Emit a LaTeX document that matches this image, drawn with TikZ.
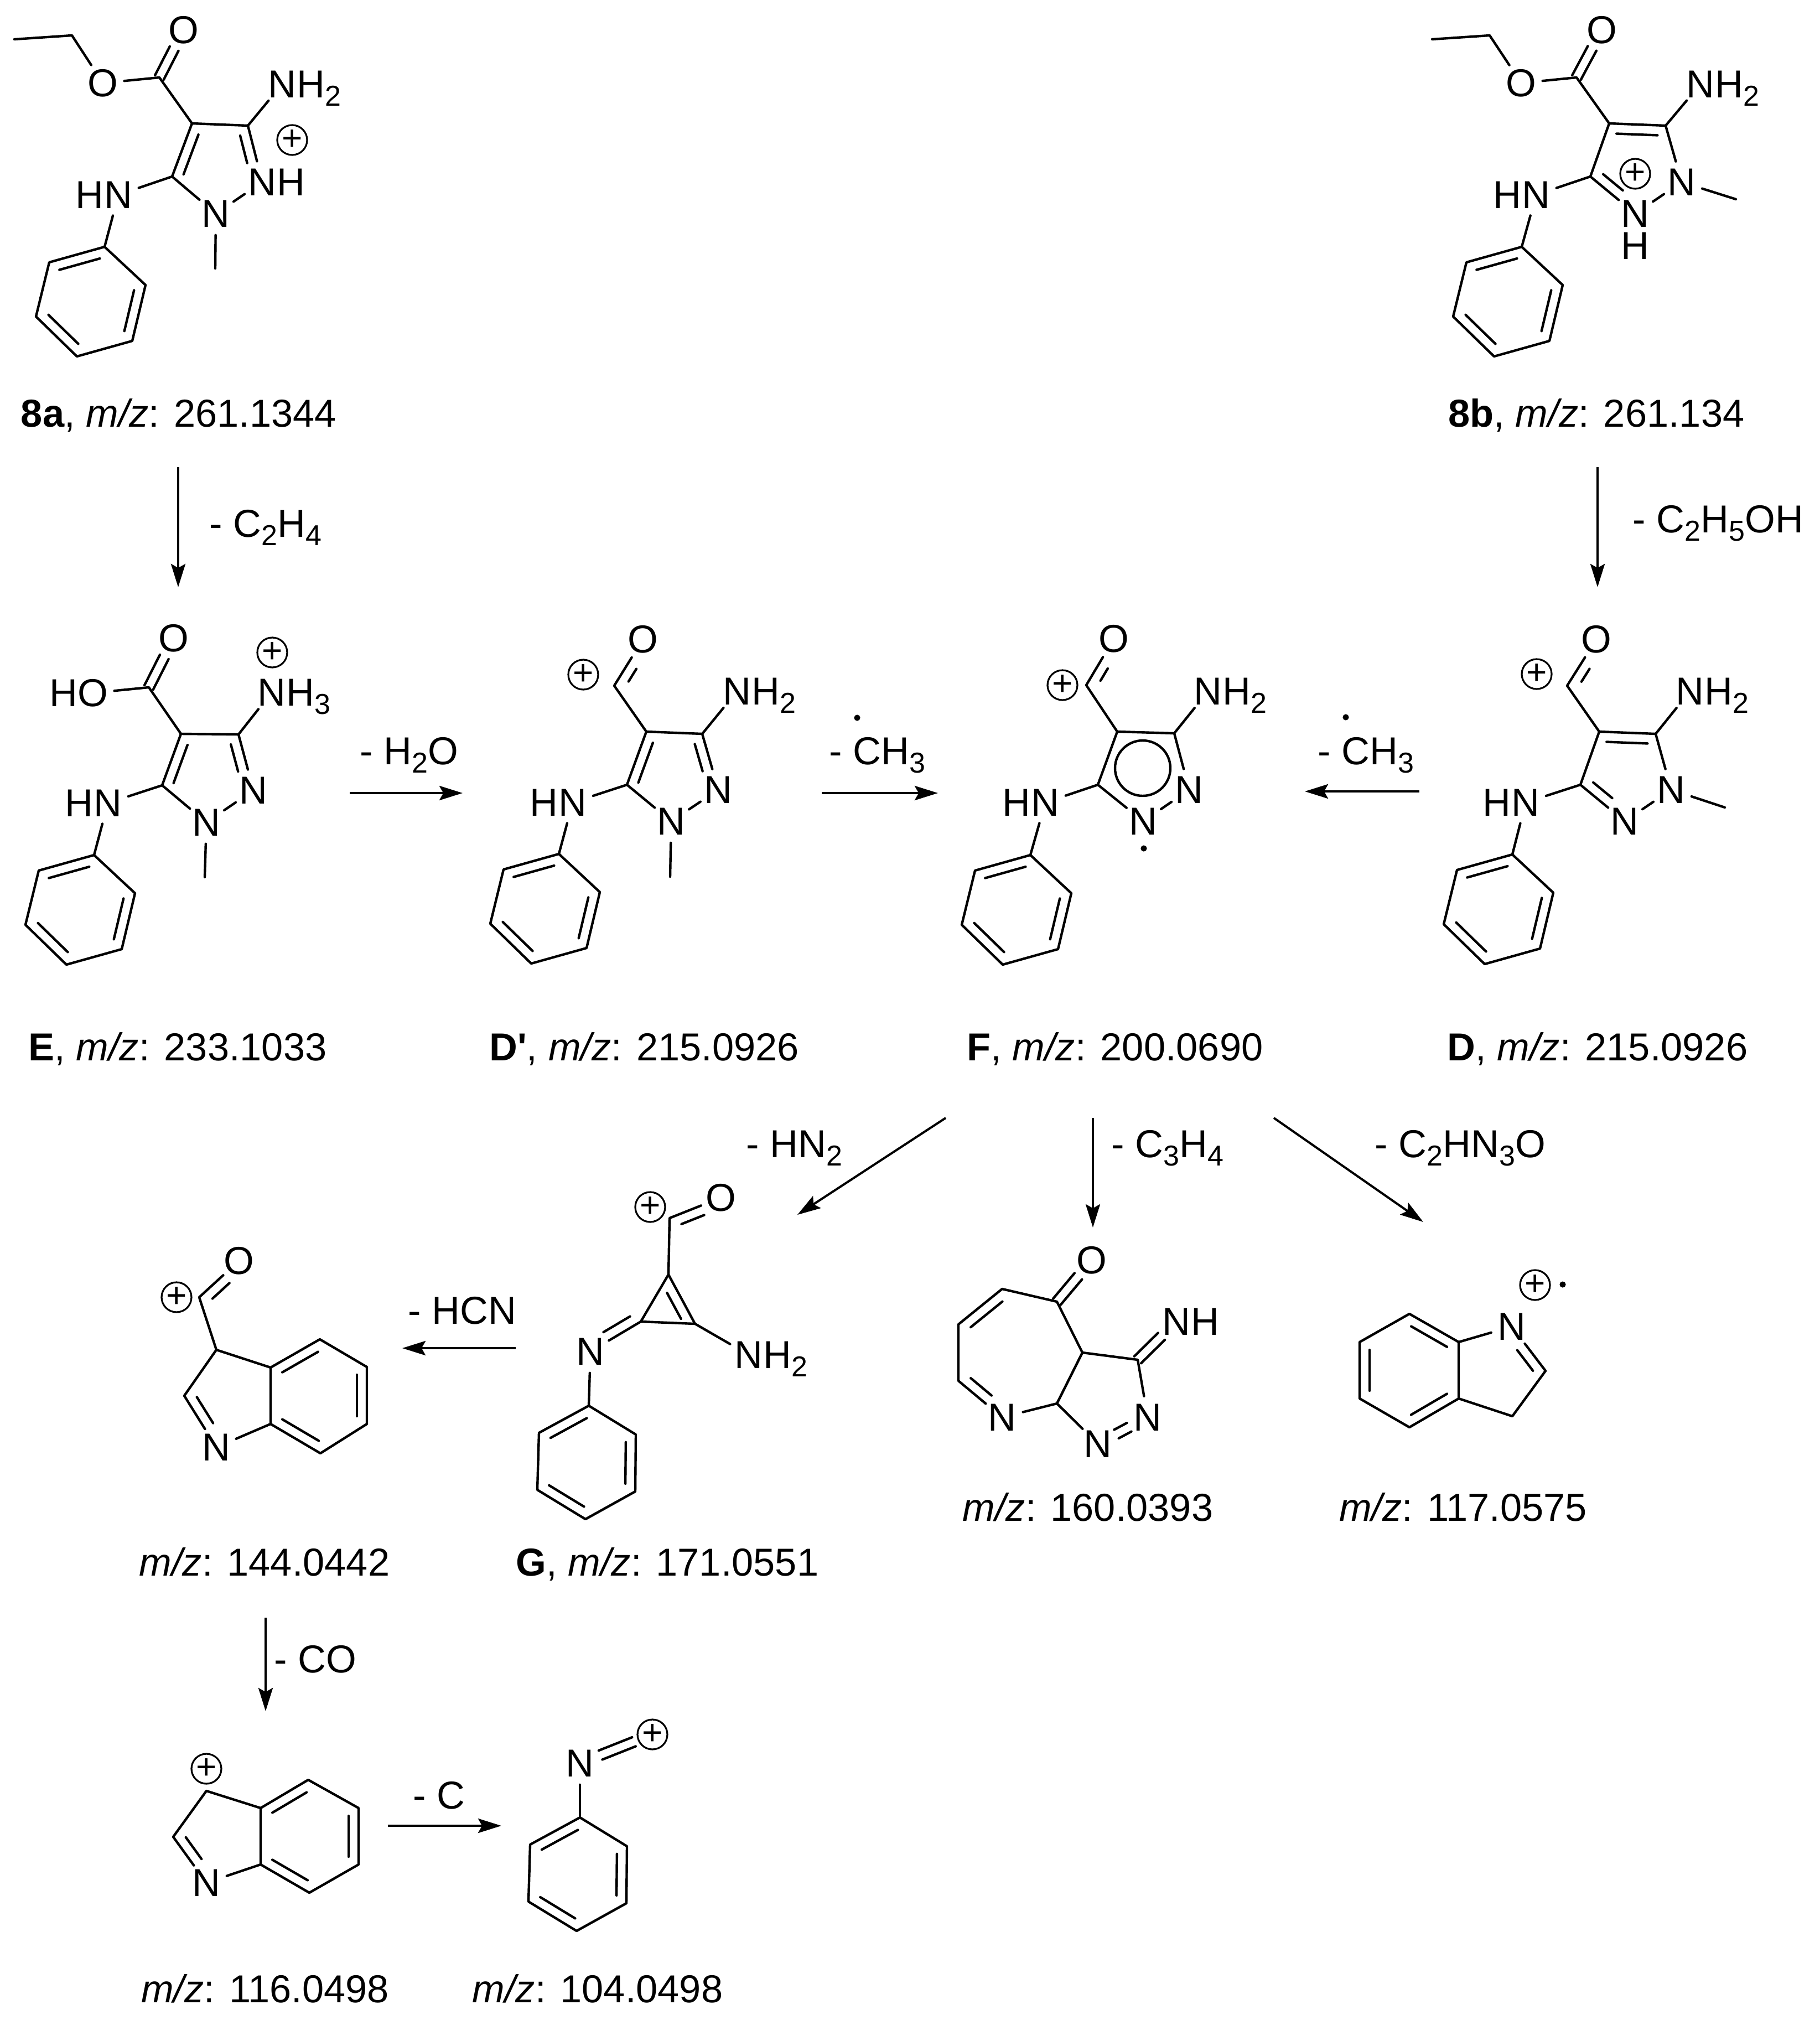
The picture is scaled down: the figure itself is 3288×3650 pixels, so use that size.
\documentclass[tikz,border=0pt]{standalone}
\usepackage{fontspec}
\setmainfont{Liberation Sans}
\usepackage{tikz}
\usetikzlibrary{positioning, calc}
\usetikzlibrary{arrows, arrows.meta}

\tikzset{
  every node/.style={font=\fontsize{17.6}{20}\selectfont},
  bond/.style={line width=1.1pt, line cap=round, line join=round},
  rxn/.style={line width=1pt, -{Stealth[length=10.5pt,width=6.5pt,inset=1.8pt]}},
  atom/.style={circle, inner sep=0pt, minimum size=19pt},
  hyd/.style={inner sep=0pt},
  cmpd/.style={anchor=base, inner sep=0pt},
  loss/.style={anchor=base west, inner sep=0pt},
  charge/.style={circle, draw, line width=0.8pt, inner sep=0pt, minimum size=13.5pt, font=\fontsize{16}{16}\selectfont}
}

\newcommand{\lowidx}[1]{\raisebox{-3.8pt}{\fontsize{13}{13}\selectfont #1}}
\newcommand{\innerline}[4]{\draw[bond, shorten <=#3, shorten >=#4] ($(#1)!4.5pt!90:(#2)$) -- ($(#2)!4.5pt!-90:(#1)$);}
\newcommand{\centrebond}[4]{%
  \draw[bond, shorten <=#3, shorten >=#4] ($(#1)!2.2pt!90:(#2)$) -- ($(#2)!2.2pt!-90:(#1)$);
  \draw[bond, shorten <=#3, shorten >=#4] ($(#1)!2.2pt!-90:(#2)$) -- ($(#2)!2.2pt!90:(#1)$);}
\newcommand{\ringlines}[1]{%
  \draw[bond] (#1_c1) -- (#1_c2) -- (#1_c3) -- (#1_c4) -- (#1_c5) -- (#1_c6) -- cycle;
  \innerline{#1_c1}{#1_c2}{3.5pt}{3.5pt}
  \innerline{#1_c3}{#1_c4}{3.5pt}{3.5pt}
  \innerline{#1_c5}{#1_c6}{3.5pt}{3.5pt}}
\newcommand{\phenylring}[1]{%
  \path (#1_c1) ++(-100,28) coordinate (#1_c2);
  \path (#1_c1) ++(-124,126) coordinate (#1_c3);
  \path (#1_c1) ++(-50,198) coordinate (#1_c4);
  \path (#1_c1) ++(50,170) coordinate (#1_c5);
  \path (#1_c1) ++(74,69) coordinate (#1_c6);
  \ringlines{#1}}
\newcommand{\phenylflat}[1]{%
  \path (#1_c1) ++(-90,49) coordinate (#1_c2);
  \path (#1_c1) ++(-93,152) coordinate (#1_c3);
  \path (#1_c1) ++(-6,205) coordinate (#1_c4);
  \path (#1_c1) ++(84,155) coordinate (#1_c5);
  \path (#1_c1) ++(85,52) coordinate (#1_c6);
  \ringlines{#1}}

\begin{document}
\begin{tikzpicture}[x=0.25pt, y=-0.25pt]
  \useasboundingbox (0,0) rectangle (3288,3650);

  % 8a
  \coordinate (sa_me) at (26,71);
  \coordinate (sa_ch) at (130,64);
  \coordinate (sa_co) at (288,140);
  \coordinate (sa_c4) at (347,223);
  \coordinate (sa_c3) at (448,227);
  \coordinate (sa_c5) at (311,319);
  \coordinate (sa_nme) at (389,485);
  \coordinate (sa_ph_c1) at (189,446);
  \node[atom] (sa_oe) at (186,150) {O};
  \node[atom] (sa_o) at (332,54) {O};
  \node[atom] (sa_nh) at (510,152) {N};
  \node[hyd, anchor=base west] (sa_nhh) at ([xshift=6.35pt]sa_nh.base) {H\lowidx{2}};
  \node[atom] (sa_n1) at (390,386) {N};
  \node[atom] (sa_n2) at (474,329) {N};
  \node[hyd, anchor=base west] (sa_n2h) at ([xshift=6.35pt]sa_n2.base) {H};
  \node[atom] (sa_hn) at (214,352) {N};
  \node[hyd, anchor=base east] (sa_hnh) at ([xshift=-6.35pt]sa_hn.base) {H};
  \node[charge] (sa_plus) at (528,253) {+};
  \draw[bond] (sa_me) -- (sa_ch) -- (sa_oe);
  \draw[bond] (sa_oe) -- (sa_co) -- (sa_c4) -- (sa_c3) -- (sa_nh);
  \draw[bond] (sa_c4) -- (sa_c5) -- (sa_n1) -- (sa_n2) -- (sa_c3);
  \draw[bond] (sa_c5) -- (sa_hn) -- (sa_ph_c1);
  \draw[bond] (sa_n1) -- (sa_nme);
  \centrebond{sa_co}{sa_o}{0pt}{9.5pt}
  \innerline{sa_c4}{sa_c5}{3.7pt}{2.7pt}
  \innerline{sa_n2}{sa_c3}{10pt}{3.5pt}
  \phenylring{sa_ph}
  \node[cmpd] (sa_lab) at (323,771) {\textbf{8a}, \textit{m/z}: 261.1344};

  % 8b
  \coordinate (sb_me) at (2588,71);
  \coordinate (sb_ch) at (2692,64);
  \coordinate (sb_co) at (2849,140);
  \coordinate (sb_c4) at (2908,223);
  \coordinate (sb_c3) at (3010,227);
  \coordinate (sb_c5) at (2874,319);
  \coordinate (sb_nme) at (3137,360);
  \coordinate (sb_ph_c1) at (2750,446);
  \node[atom] (sb_oe) at (2749,150) {O};
  \node[atom] (sb_o) at (2895,54) {O};
  \node[atom] (sb_nh) at (3073,152) {N};
  \node[hyd, anchor=base west] (sb_nhh) at ([xshift=6.35pt]sb_nh.base) {H\lowidx{2}};
  \node[atom] (sb_n1) at (3039,329) {N};
  \node[atom] (sb_n2) at (2955,386) {N};
  \node[hyd] (sb_n2h) at (2955,444) {H};
  \node[atom] (sb_hn) at (2776,352) {N};
  \node[hyd, anchor=base east] (sb_hnh) at ([xshift=-6.35pt]sb_hn.base) {H};
  \node[charge] (sb_plus) at (2955,314) {+};
  \draw[bond] (sb_me) -- (sb_ch) -- (sb_oe);
  \draw[bond] (sb_oe) -- (sb_co) -- (sb_c4) -- (sb_c3) -- (sb_nh);
  \draw[bond] (sb_c4) -- (sb_c5) -- (sb_n2) -- (sb_n1) -- (sb_c3);
  \draw[bond] (sb_c5) -- (sb_hn) -- (sb_ph_c1);
  \draw[bond] (sb_n1) -- (sb_nme);
  \centrebond{sb_co}{sb_o}{0pt}{9.5pt}
  \innerline{sb_c3}{sb_c4}{3.5pt}{3.5pt}
  \innerline{sb_c5}{sb_n2}{3.8pt}{11pt}
  \phenylring{sb_ph}
  \node[cmpd] (sb_lab) at (2885,771) {\textbf{8b}, \textit{m/z}: 261.134};

  % E
  \coordinate (e_co) at (269,1242);
  \coordinate (e_c4) at (327,1326);
  \coordinate (e_c3) at (431,1327);
  \coordinate (e_c5) at (293,1419);
  \coordinate (e_nme) at (370,1585);
  \coordinate (e_ph_c1) at (170,1545);
  \node[atom] (e_oh) at (168,1252) {O};
  \node[hyd, anchor=base east] (e_ohh) at ([xshift=-6.8pt]e_oh.base) {H};
  \node[atom] (e_o) at (314,1153) {O};
  \node[atom] (e_nh) at (491,1251) {N};
  \node[hyd, anchor=base west] (e_nhh) at ([xshift=6.35pt]e_nh.base) {H\lowidx{3}};
  \node[atom] (e_n1) at (373,1486) {N};
  \node[atom] (e_n2) at (458,1428) {N};
  \node[atom] (e_hn) at (195,1451) {N};
  \node[hyd, anchor=base east] (e_hnh) at ([xshift=-6.35pt]e_hn.base) {H};
  \node[charge] (e_plus) at (492,1179) {+};
  \draw[bond] (e_oh) -- (e_co) -- (e_c4) -- (e_c3) -- (e_nh);
  \draw[bond] (e_c4) -- (e_c5) -- (e_n1) -- (e_n2) -- (e_c3);
  \draw[bond] (e_c5) -- (e_hn) -- (e_ph_c1);
  \draw[bond] (e_n1) -- (e_nme);
  \centrebond{e_co}{e_o}{0pt}{9.5pt}
  \innerline{e_c4}{e_c5}{3.7pt}{2.7pt}
  \innerline{e_n2}{e_c3}{10pt}{3.5pt}
  \phenylring{e_ph}
  \node[cmpd] (e_lab) at (321,1916) {\textbf{E}, \textit{m/z}: 233.1033};

  % D'
  \coordinate (dp_co) at (1110,1239);
  \coordinate (dp_c4) at (1168,1322);
  \coordinate (dp_c3) at (1269,1326);
  \coordinate (dp_c5) at (1133,1418);
  \coordinate (dp_nme) at (1211,1584);
  \coordinate (dp_ph_c1) at (1010,1543);
  \node[atom] (dp_o) at (1162,1155) {O};
  \node[atom] (dp_nh) at (1332,1249) {N};
  \node[hyd, anchor=base west] (dp_nhh) at ([xshift=6.35pt]dp_nh.base) {H\lowidx{2}};
  \node[atom] (dp_n1) at (1213,1484) {N};
  \node[atom] (dp_n2) at (1298,1427) {N};
  \node[atom] (dp_hn) at (1035,1450) {N};
  \node[hyd, anchor=base east] (dp_hnh) at ([xshift=-6.35pt]dp_hn.base) {H};
  \node[charge] (dp_plus) at (1054,1219) {+};
  \draw[bond] (dp_o) -- (dp_co) -- (dp_c4) -- (dp_c3) -- (dp_nh);
  \draw[bond] (dp_c4) -- (dp_c5) -- (dp_n1) -- (dp_n2) -- (dp_c3);
  \draw[bond] (dp_c5) -- (dp_hn) -- (dp_ph_c1);
  \draw[bond] (dp_n1) -- (dp_nme);
  \innerline{dp_o}{dp_co}{13pt}{5pt}
  \innerline{dp_c4}{dp_c5}{3.7pt}{2.7pt}
  \innerline{dp_n2}{dp_c3}{10pt}{3.5pt}
  \phenylring{dp_ph}
  \node[cmpd] (dp_lab) at (1164,1916) {\textbf{D\textquotesingle}, \textit{m/z}: 215.0926};

  % F
  \coordinate (f_co) at (1963,1238);
  \coordinate (f_c4) at (2019,1322);
  \coordinate (f_c3) at (2122,1325);
  \coordinate (f_c5) at (1984,1418);
  \coordinate (f_ring) at (2065,1388);
  \coordinate (f_ph_c1) at (1862,1545);
  \node[atom] (f_o) at (2013,1154) {O};
  \node[atom] (f_nh) at (2183,1249) {N};
  \node[hyd, anchor=base west] (f_nhh) at ([xshift=6.35pt]f_nh.base) {H\lowidx{2}};
  \node[atom] (f_n1) at (2066,1484) {N};
  \node[atom] (f_n2) at (2149,1427) {N};
  \node[atom] (f_hn) at (1889,1450) {N};
  \node[hyd, anchor=base east] (f_hnh) at ([xshift=-6.35pt]f_hn.base) {H};
  \node[charge] (f_plus) at (1920,1238) {+};
  \draw[bond] (f_o) -- (f_co) -- (f_c4) -- (f_c3) -- (f_nh);
  \draw[bond] (f_c4) -- (f_c5) -- (f_n1) -- (f_n2) -- (f_c3);
  \draw[bond] (f_c5) -- (f_hn) -- (f_ph_c1);
  \draw[bond] (f_ring) circle[radius=12.5pt];
  \innerline{f_o}{f_co}{13pt}{5pt}
  \fill (2067,1533) circle[radius=1.4pt];
  \phenylring{f_ph}
  \node[cmpd] (f_lab) at (2015,1916) {\textbf{F}, \textit{m/z}: 200.0690};

  % D
  \coordinate (d_co) at (2832,1239);
  \coordinate (d_c4) at (2890,1322);
  \coordinate (d_c3) at (2992,1326);
  \coordinate (d_c5) at (2856,1418);
  \coordinate (d_nme) at (3117,1459);
  \coordinate (d_ph_c1) at (2733,1544);
  \node[atom] (d_o) at (2885,1155) {O};
  \node[atom] (d_nh) at (3054,1249) {N};
  \node[hyd, anchor=base west] (d_nhh) at ([xshift=6.35pt]d_nh.base) {H\lowidx{2}};
  \node[atom] (d_n1) at (3020,1427) {N};
  \node[atom] (d_n2) at (2936,1484) {N};
  \node[atom] (d_hn) at (2757,1450) {N};
  \node[hyd, anchor=base east] (d_hnh) at ([xshift=-6.35pt]d_hn.base) {H};
  \node[charge] (d_plus) at (2777,1218) {+};
  \draw[bond] (d_o) -- (d_co) -- (d_c4) -- (d_c3) -- (d_nh);
  \draw[bond] (d_c4) -- (d_c5) -- (d_n2) -- (d_n1) -- (d_c3);
  \draw[bond] (d_c5) -- (d_hn) -- (d_ph_c1);
  \draw[bond] (d_n1) -- (d_nme);
  \innerline{d_o}{d_co}{13pt}{5pt}
  \innerline{d_c3}{d_c4}{3.5pt}{3.5pt}
  \innerline{d_c5}{d_n2}{3.8pt}{11pt}
  \phenylring{d_ph}
  \node[cmpd] (d_lab) at (2887,1916) {\textbf{D}, \textit{m/z}: 215.0926};

  % G
  \coordinate (g_co) at (1210,2201);
  \coordinate (g_c1) at (1208,2303);
  \coordinate (g_c2) at (1158,2388);
  \coordinate (g_c3) at (1256,2392);
  \coordinate (g_ph_c1) at (1064,2540);
  \node[atom] (g_o) at (1303,2164) {O};
  \node[atom] (g_n) at (1067,2442) {N};
  \node[atom] (g_nh) at (1353,2448) {N};
  \node[hyd, anchor=base west] (g_nhh) at ([xshift=6.35pt]g_nh.base) {H\lowidx{2}};
  \node[charge] (g_plus) at (1175,2181) {+};
  \draw[bond] (g_o) -- (g_co) -- (g_c1);
  \draw[bond] (g_c1) -- (g_c2) -- (g_c3) -- cycle;
  \draw[bond] (g_c2) -- (g_n) -- (g_ph_c1);
  \draw[bond] (g_c3) -- (g_nh);
  \innerline{g_o}{g_co}{10pt}{4pt}
  \innerline{g_c3}{g_c1}{5pt}{7pt}
  \innerline{g_n}{g_c2}{9.5pt}{3pt}
  \phenylflat{g_ph}
  \node[cmpd] (g_lab) at (1206,2847) {\textbf{G}, \textit{m/z}: 171.0551};

  % m/z 144
  \coordinate (h_co) at (360,2344);
  \coordinate (h_c3) at (391,2439);
  \coordinate (h_c2) at (333,2522);
  \coordinate (h_c3a) at (489,2471);
  \coordinate (h_c4) at (578,2420);
  \coordinate (h_c5) at (663,2470);
  \coordinate (h_c6) at (663,2573);
  \coordinate (h_c7) at (579,2626);
  \coordinate (h_c7a) at (489,2573);
  \node[atom] (h_o) at (432,2278) {O};
  \node[atom] (h_n) at (391,2615) {N};
  \node[charge] (h_plus) at (319,2344) {+};
  \draw[bond] (h_o) -- (h_co) -- (h_c3) -- (h_c2) -- (h_n) -- (h_c7a);
  \draw[bond] (h_c3) -- (h_c3a) -- (h_c4) -- (h_c5) -- (h_c6) -- (h_c7) -- (h_c7a) -- (h_c3a);
  \innerline{h_o}{h_co}{10pt}{4pt}
  \innerline{h_c2}{h_n}{3.5pt}{10pt}
  \innerline{h_c4}{h_c3a}{3.5pt}{3.5pt}
  \innerline{h_c6}{h_c5}{3.5pt}{3.5pt}
  \innerline{h_c7a}{h_c7}{3.5pt}{3.5pt}
  \node[cmpd] (h_lab) at (478,2847) {\textit{m/z}: 144.0442};

  % m/z 160
  \coordinate (k_co) at (1910,2352);
  \coordinate (k_c6) at (1811,2329);
  \coordinate (k_c7) at (1732,2393);
  \coordinate (k_c8) at (1732,2495);
  \coordinate (k_c9) at (1910,2536);
  \coordinate (k_c3a) at (1956,2444);
  \coordinate (k_c3) at (2056,2457);
  \node[atom] (k_o) at (1973,2277) {O};
  \node[atom] (k_nh) at (2126,2388) {N};
  \node[hyd, anchor=base west] (k_nhh) at ([xshift=6.35pt]k_nh.base) {H};
  \node[atom] (k_n) at (1811,2561) {N};
  \node[atom] (k_n1) at (2074,2561) {N};
  \node[atom] (k_n2) at (1984,2609) {N};
  \draw[bond] (k_co) -- (k_c6) -- (k_c7) -- (k_c8) -- (k_n) -- (k_c9) -- (k_c3a) -- (k_co);
  \draw[bond] (k_c3a) -- (k_c3) -- (k_n1);
  \draw[bond] (k_c9) -- (k_n2);
  \centrebond{k_co}{k_o}{0pt}{9.5pt}
  \centrebond{k_c3}{k_nh}{0pt}{9.5pt}
  \centrebond{k_n2}{k_n1}{9.5pt}{9.5pt}
  \innerline{k_c6}{k_c7}{3.5pt}{3.5pt}
  \innerline{k_c8}{k_n}{3.5pt}{10pt}
  \node[cmpd] (k_lab) at (1966,2748) {\textit{m/z}: 160.0393};

  % m/z 117
  \coordinate (m_c7a) at (2636,2425);
  \coordinate (m_c7) at (2547,2374);
  \coordinate (m_c6) at (2457,2425);
  \coordinate (m_c5) at (2457,2527);
  \coordinate (m_c4) at (2547,2579);
  \coordinate (m_c3a) at (2636,2527);
  \coordinate (m_c3) at (2733,2559);
  \coordinate (m_c2) at (2793,2477);
  \node[atom] (m_n) at (2732,2397) {N};
  \node[charge] (m_plus) at (2774,2322) {+};
  \fill (2824,2321) circle[radius=1.4pt];
  \draw[bond] (m_c7a) -- (m_c7) -- (m_c6) -- (m_c5) -- (m_c4) -- (m_c3a) -- cycle;
  \draw[bond] (m_c7a) -- (m_n) -- (m_c2) -- (m_c3) -- (m_c3a);
  \innerline{m_c7a}{m_c7}{3.5pt}{3.5pt}
  \innerline{m_c6}{m_c5}{3.5pt}{3.5pt}
  \innerline{m_c4}{m_c3a}{3.5pt}{3.5pt}
  \innerline{m_c2}{m_n}{3.5pt}{10pt}
  \node[cmpd] (m_lab) at (2644,2748) {\textit{m/z}: 117.0575};

  % m/z 116
  \coordinate (p_c3) at (373,3236);
  \coordinate (p_c2) at (313,3319);
  \coordinate (p_c3a) at (471,3267);
  \coordinate (p_c4) at (557,3216);
  \coordinate (p_c5) at (648,3267);
  \coordinate (p_c6) at (648,3369);
  \coordinate (p_c7) at (559,3420);
  \coordinate (p_c7a) at (471,3369);
  \node[atom] (p_n) at (373,3402) {N};
  \node[charge] (p_plus) at (373,3196) {+};
  \draw[bond] (p_c3a) -- (p_c3) -- (p_c2) -- (p_n) -- (p_c7a);
  \draw[bond] (p_c3a) -- (p_c4) -- (p_c5) -- (p_c6) -- (p_c7) -- (p_c7a) -- cycle;
  \innerline{p_c2}{p_n}{3.5pt}{10pt}
  \innerline{p_c4}{p_c3a}{3.5pt}{3.5pt}
  \innerline{p_c6}{p_c5}{3.5pt}{3.5pt}
  \innerline{p_c7a}{p_c7}{3.5pt}{3.5pt}
  \node[cmpd] (p_lab) at (479,3618) {\textit{m/z}: 116.0498};

  % m/z 104
  \coordinate (q_ph_c1) at (1048,3284);
  \node[atom] (q_n) at (1048,3186) {N};
  \node[charge] (q_plus) at (1179,3134) {+};
  \draw[bond] (q_n) -- (q_ph_c1);
  \centrebond{q_n}{q_plus}{10pt}{9pt}
  \phenylflat{q_ph}
  \node[cmpd] (q_lab) at (1080,3618) {\textit{m/z}: 104.0498};

  % arrows
  \coordinate (r1_s) at (322,844);
  \coordinate (r1_e) at (322,1061);
  \coordinate (r2_s) at (2887,844);
  \coordinate (r2_e) at (2887,1061);
  \coordinate (r3_s) at (632,1433);
  \coordinate (r3_e) at (836,1433);
  \coordinate (r4_s) at (1485,1433);
  \coordinate (r4_e) at (1695,1433);
  \coordinate (r5_s) at (2565,1430);
  \coordinate (r5_e) at (2358,1430);
  \coordinate (r6_s) at (1709,2020);
  \coordinate (r6_e) at (1441,2195);
  \coordinate (r7_s) at (1975,2020);
  \coordinate (r7_e) at (1975,2218);
  \coordinate (r8_s) at (2302,2020);
  \coordinate (r8_e) at (2572,2208);
  \coordinate (r9_s) at (932,2436);
  \coordinate (r9_e) at (727,2436);
  \coordinate (r10_s) at (480,2923);
  \coordinate (r10_e) at (480,3092);
  \coordinate (r11_s) at (701,3299);
  \coordinate (r11_e) at (906,3299);
  \draw[rxn] (r1_s) -- (r1_e);
  \draw[rxn] (r2_s) -- (r2_e);
  \draw[rxn] (r3_s) -- (r3_e);
  \draw[rxn] (r4_s) -- (r4_e);
  \draw[rxn] (r5_s) -- (r5_e);
  \draw[rxn] (r6_s) -- (r6_e);
  \draw[rxn] (r7_s) -- (r7_e);
  \draw[rxn] (r8_s) -- (r8_e);
  \draw[rxn] (r9_s) -- (r9_e);
  \draw[rxn] (r10_s) -- (r10_e);
  \draw[rxn] (r11_s) -- (r11_e);

  % losses
  \node[loss] (l1) at (378,970) {- C\lowidx{2}H\lowidx{4}};
  \node[loss] (l2) at (2950,962) {- C\lowidx{2}H\lowidx{5}OH};
  \node[loss] (l3) at (650,1381) {- H\lowidx{2}O};
  \node[loss] (l4) at (1498,1381) {- CH\lowidx{3}};
  \node[loss] (l5) at (2381,1381) {- CH\lowidx{3}};
  \node[loss] (l6) at (1348,2091) {- HN\lowidx{2}};
  \node[loss] (l7) at (2008,2091) {- C\lowidx{3}H\lowidx{4}};
  \node[loss] (l8) at (2484,2091) {- C\lowidx{2}HN\lowidx{3}O};
  \node[loss] (l9) at (737,2392) {- HCN};
  \node[loss] (l10) at (495,3022) {- CO};
  \node[loss] (l11) at (746,3268) {- C};
  \fill (1549,1297) circle[radius=1.4pt];
  \fill (2432,1296) circle[radius=1.4pt];

\end{tikzpicture}
\end{document}
